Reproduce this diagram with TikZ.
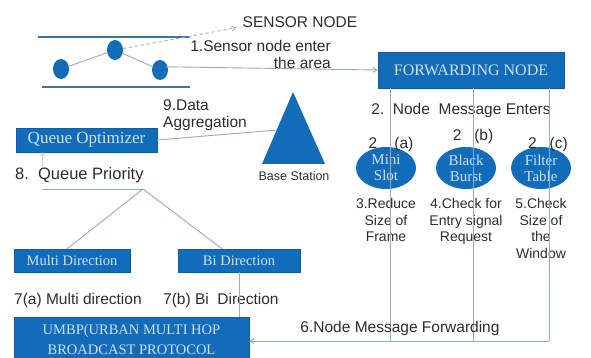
\documentclass[tikz,border=0pt]{standalone}
\usepackage{fontspec}
\setmainfont{Liberation Sans}
\newfontfamily\blockfont{Liberation Serif}
\usepackage{tikz}
\usetikzlibrary{shapes.geometric, arrows.meta, positioning}

\definecolor{umbpblue}{RGB}{18,108,186}
\definecolor{blocktext}{RGB}{205,225,243}
\definecolor{linkgray}{RGB}{150,170,192}
\definecolor{labelgray}{RGB}{45,45,45}

\begin{document}
\begin{tikzpicture}[
    x=1pt, y=-1pt,
    block/.style={rectangle, fill=umbpblue, draw=umbpblue!85!black, text=blocktext, font=\blockfont\fontsize{14.5}{20}\selectfont, align=center, inner sep=0pt},
    bubble/.style={ellipse, fill=umbpblue, text=blocktext, font=\blockfont\fontsize{15}{16}\selectfont, align=center, minimum width=60, minimum height=42, inner sep=0pt},
    sensor/.style={ellipse, fill=umbpblue, minimum width=16, minimum height=20, inner sep=0pt},
    lbl/.style={text=labelgray, font=\fontsize{15.5}{17}\selectfont, inner sep=0pt},
    steplbl/.style={lbl, align=center, font=\fontsize{14}{16.5}\selectfont},
    link/.style={draw=linkgray, line width=0.9pt},
    rule/.style={draw=umbpblue!60!gray, line width=1.2pt},
    arrow/.style={link, -{Straight Barb[length=4pt,width=5pt]}}
]
\useasboundingbox (0,0) rectangle (591,358);
\clip (0,0) rectangle (591,358);

% sensor field
\node (sensorlbl) [lbl] at (300,22) {SENSOR NODE};
\draw [rule] (38,37) -- (190,37);
\draw [rule] (42,87) -- (190,87);
\node (midnode) [sensor] at (115,50) {};
\node (leftnode) [sensor] at (61,69) {};
\node (rightnode) [sensor] at (160,70) {};
\draw [link] (leftnode) -- (midnode);
\draw [link] (midnode) -- (rightnode);
\draw [arrow, dashed] (midnode) -- ([xshift=-6]sensorlbl.south west);

% forwarding node and its three branches
\node (fwd) [block, minimum width=186, minimum height=36, font=\blockfont\fontsize{16}{18}\selectfont] at (471,70) {FORWARDING NODE};
\node (enterlbl) [lbl, align=right, anchor=north east] at (331,40) {1.Sensor node enter\\the area};
\draw [arrow] ([yshift=-4]rightnode.north east) -- (fwd.west);

\node (msglbl) [lbl] at (461,110) {2.\ \ Node\ \ Message Enters};

\node (minislot) [bubble] at (386,168) {Mini\\Slot};
\node (blackburst) [bubble] at (466,168) {Black\\Burst};
\node (filtertab) [bubble] at (541,168) {Filter\\Table};

\node (tagA) [lbl] at (391,144) {2\ \ \ \ (a)};
\node (tagB) [lbl] at (473,136) {2\ \ \ (b)};
\node (tagC) [lbl] at (548,144) {2\ \ \ (c)};

\node (reducelbl) [steplbl, below=9pt of minislot] {3.Reduce\\Size of\\Frame};
\node (checklbl) [steplbl, below=9pt of blackburst] {4.Check for\\Entry signal\\Request};
\node (windowlbl) [steplbl, below=9pt of filtertab] {5.Check\\Size of\\the\\Window};

\coordinate (ba) at (390,341);
\coordinate (bb) at (473,341);
\coordinate (bc) at (549,341);
\draw [link] (fwd.south -| ba) -- (ba);
\draw [link] (fwd.south -| bb) -- (bb);
\draw [link] (fwd.south -| bc) -- (bc);

% base station and queue side
\fill [umbpblue] (293,92) -- (325,164) -- (262,164) -- cycle;
\coordinate (bsedge) at (277,130);
\node (bslbl) [lbl, font=\fontsize{12.5}{15}\selectfont] at (294,176) {Base Station};

\node (queue) [block, minimum width=141, minimum height=24, font=\blockfont\fontsize{17}{19}\selectfont] at (86.5,140) {Queue Optimizer};
\node (agglbl) [lbl, align=left, anchor=north west] at (163,99) {9.Data\\Aggregation};
\draw [link] (queue.east) -- (bsedge);

\node (prio) [lbl, anchor=west, font=\fontsize{16.5}{18}\selectfont] at (15,175) {8.\ \ Queue Priority};
\draw [link, draw=linkgray!50, -{Straight Barb[length=3pt,width=5pt]}] ([xshift=27]queue.south west |- prio.north) -- ([xshift=27]queue.south west);
\coordinate (split) at (143,189);
\draw [link] (42,189) -- (split);

\node (multi) [block, minimum width=116, minimum height=23] at (72,260.5) {Multi Direction};
\node (bi) [block, minimum width=122, minimum height=23] at (239,260.5) {Bi Direction};
\draw [link] (split) -- ([xshift=-5]multi.north);
\draw [link] (split) -- ([xshift=-17]bi.north);

\node (lblA) [lbl, anchor=west] at (14,300) {7(a) Multi direction};
\node (lblB) [lbl, anchor=west] at (163,300) {7(b) Bi\ \ Direction};

\node (umbp) [block, minimum width=235, minimum height=46, font=\blockfont\fontsize{14.5}{20}\selectfont] at (131.5,340) {UMBP(URBAN MULTI HOP\\BROADCAST PROTOCOL};
\draw [link] (bi.south) -- (bi.south |- umbp.north);

% forwarding back to the protocol block
\node (fwdlbl) [lbl] at (400,328) {6.Node Message Forwarding};
\draw [link] (ba) -- (bc);
\draw [arrow] (ba) -- (ba -| umbp.east);

\end{tikzpicture}
\end{document}
